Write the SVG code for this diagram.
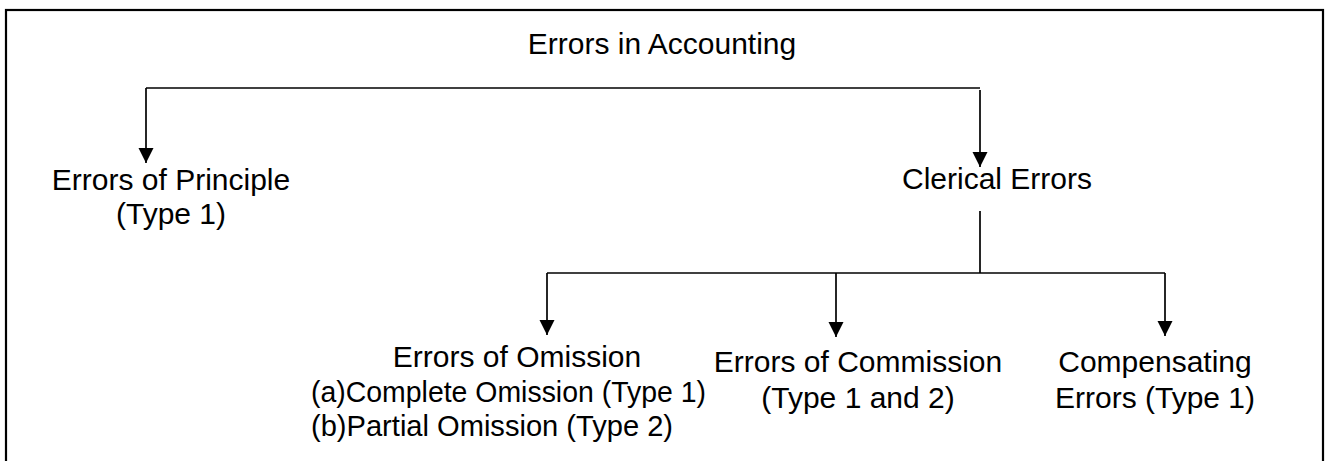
<svg xmlns="http://www.w3.org/2000/svg" width="1328" height="461" viewBox="0 0 1328 461">
<style>
  .t { font-family: "Liberation Sans", Arial, sans-serif; font-size: 30px; fill: #000; }
  .c { text-anchor: middle; }
  .ln { fill: none; stroke: #000; stroke-width: 1.7; }
</style>
<defs>
  <marker id="ah" markerUnits="userSpaceOnUse" markerWidth="16" markerHeight="16" refX="15" refY="7.5" orient="auto">
    <path d="M0,0 L15,7.5 L0,15 z" fill="#000"/>
  </marker>
</defs>
<rect x="0" y="0" width="1328" height="461" fill="#fff"/>
<rect id="frame" x="6" y="10" width="1317" height="470" fill="none" stroke="#000" stroke-width="2.2"/>

<g id="connectors">
  <path class="ln" d="M146,88 H980"/>
  <path class="ln" d="M146,88 V163" marker-end="url(#ah)"/>
  <path class="ln" d="M980,90 V167" marker-end="url(#ah)"/>
  <path class="ln" d="M980,211 V273"/>
  <path class="ln" d="M547,273 H1165"/>
  <path class="ln" d="M547,273 V335" marker-end="url(#ah)"/>
  <path class="ln" d="M836,273 V337" marker-end="url(#ah)"/>
  <path class="ln" d="M1165,273 V336" marker-end="url(#ah)"/>
</g>

<g id="root">
  <text class="t c" x="662" y="54">Errors in Accounting</text>
</g>
<g id="principle">
  <text class="t c" x="171" y="190">Errors of Principle</text>
  <text class="t c" x="171" y="224">(Type 1)</text>
</g>
<g id="clerical">
  <text class="t c" x="997" y="189">Clerical Errors</text>
</g>
<g id="omission">
  <text class="t c" x="517" y="367">Errors of Omission</text>
  <text class="t" x="311" y="402" textLength="395" lengthAdjust="spacingAndGlyphs">(a)Complete Omission (Type 1)</text>
  <text class="t" x="311" y="436" textLength="362" lengthAdjust="spacingAndGlyphs">(b)Partial Omission (Type 2)</text>
</g>
<g id="commission">
  <text class="t c" x="858" y="372">Errors of Commission</text>
  <text class="t c" x="858" y="408">(Type 1 and 2)</text>
</g>
<g id="compensating">
  <text class="t c" x="1155" y="372">Compensating</text>
  <text class="t c" x="1155" y="408">Errors (Type 1)</text>
</g>
</svg>
